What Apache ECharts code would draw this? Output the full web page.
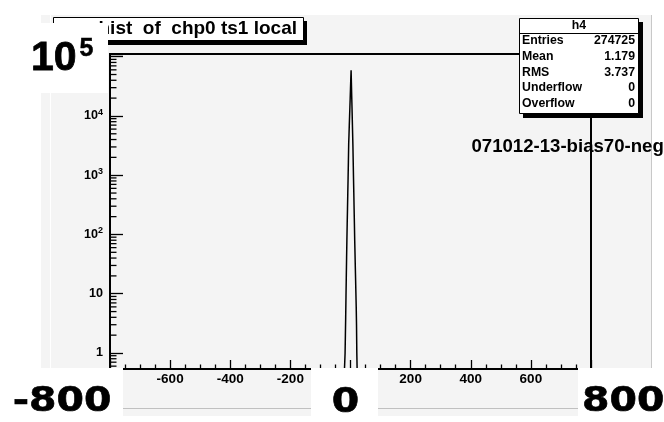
<!DOCTYPE html>
<html><head><meta charset="utf-8">
<script src="https://cdn.jsdelivr.net/npm/echarts@6/dist/echarts.min.js"></script>
<style>html,body{margin:0;padding:0;background:#fff;}#c{width:664px;height:422px;}</style>
</head><body><div id="c"></div>
<script>
// ---- data ----
const binCenters = [-20,-19,-18,-17,-16,-15,-14,-13,-12,-11,-10,-9,-8,-7,-6,-5,-4,-3,-2,-1,0,1,2,3,4,5,6,7,8,9,10,11,12,13,14,15,16,17,18,19,20,21,22];
const binCounts  = [0,0,1,2,4,9,19,40,80,150,270,500,900,1700,3400,4800,7000,10000,14000,20000,29000,42000,59000,36000,22000,14000,8500,5200,3200,1700,900,500,270,150,80,48,28,17,10,6,3,1,0];
const xTickLabels = ['-600','-400','-200','200','400','600'];
const yTickExponents = [0,1,2,3,4];
const statsLabels = ['Entries','Mean','RMS','Underflow','Overflow'];
const statsValues = ['274725','1.179','3.737','0','0'];
const histName = 'h4';
const titleText = 'hist  of  chp0 ts1 local';
const fileLabel = '071012-13-bias70-neg';
const bigXLabels = ['-800','0','800'];
const bigYLabel = ['10','5'];
const xMin = -800, xMax = 800, xStep = 200;
const yMin = 0.537, yMax = 1.11e5;

const FONT = '"Liberation Sans", Arial, sans-serif';
const chart = echarts.init(document.getElementById('c'), null, {renderer:'canvas'});

const lineData = binCenters.map((x,i)=>[x, binCounts[i] > 0 ? binCounts[i] : yMin]);

chart.setOption({
  animation:false,
  backgroundColor:'transparent',
  grid:{left:110,right:73,top:54,bottom:53,show:true,borderColor:'#000',borderWidth:2,backgroundColor:'transparent'},
  xAxis:{
    type:'value',min:xMin,max:xMax,interval:xStep,
    axisLine:{show:true,onZero:false,lineStyle:{color:'#000',width:2}},
    axisTick:{show:true,inside:true,length:9,lineStyle:{color:'#000',width:1.3}},
    minorTick:{show:true,splitNumber:4,length:4.5,lineStyle:{color:'#000',width:1.3}},
    splitLine:{show:false},
    axisLabel:{margin:3,color:'#000',fontFamily:FONT,fontWeight:'bold',fontSize:13.5,
      formatter:v=>xTickLabels.indexOf(String(v))>=0?String(v):''}
  },
  yAxis:{
    type:'log',logBase:10,min:yMin,max:yMax,
    axisLine:{show:true,onZero:false,lineStyle:{color:'#000',width:2}},
    axisTick:{show:true,inside:true,length:13,lineStyle:{color:'#000',width:1.3}},
    minorTick:{show:false},
    splitLine:{show:false},
    axisLabel:{margin:7,color:'#000',fontFamily:FONT,fontWeight:'bold',fontSize:12.6,
      formatter:v=>{
        const e=Math.round(Math.log10(v));
        if(Math.abs(v-Math.pow(10,e))>1e-6*Math.pow(10,e)) return '';
        if(yTickExponents.indexOf(e)<0) return '';
        if(e===0) return '1';
        if(e===1) return '10';
        return '{b|10}{s|'+e+'}';
      },
      rich:{b:{fontFamily:FONT,fontWeight:'bold',fontSize:12.6,color:'#000'},
            s:{fontFamily:FONT,fontWeight:'bold',fontSize:9,color:'#000',padding:[0,0,7,0]}}
    }
  },
  series:[{type:'line',data:lineData,showSymbol:false,symbol:'none',clip:true,
    lineStyle:{color:'#000',width:1.5},z:5}]
});

const g = [];
g.push({type:'rect',z:-100,silent:true,shape:{x:41,y:15,width:611,height:401},style:{fill:'#f4f4f4'}});
g.push({type:'line',z:-99,silent:true,shape:{x1:50.5,y1:15,x2:50.5,y2:408},style:{stroke:'#ffffff',lineWidth:1}});
g.push({type:'line',z:-99,silent:true,shape:{x1:651.5,y1:15,x2:651.5,y2:416},style:{stroke:'#c8c8c8',lineWidth:1}});
g.push({type:'line',z:-99,silent:true,shape:{x1:41,y1:408.5,x2:652,y2:408.5},style:{stroke:'#c0c0c0',lineWidth:1}});

// minor log ticks
const axisX = chart.convertToPixel({xAxisIndex:0}, xMin);
for(let e=-1;e<=5;e++){
  for(let m=2;m<=9;m++){
    const v=m*Math.pow(10,e);
    if(v>yMin && v<yMax){
      const py=chart.convertToPixel({yAxisIndex:0}, v);
      g.push({type:'line',z:10,silent:true,shape:{x1:axisX,y1:py,x2:axisX+6.5,y2:py},style:{stroke:'#000',lineWidth:1.3}});
    }
  }
}

// file label
g.push({type:'text',z:20,x:471.5,y:147,style:{text:fileLabel,fill:'#000',fontFamily:FONT,fontWeight:'bold',fontSize:18.6,align:'left',verticalAlign:'middle'}});

// title box
g.push({type:'rect',z:30,shape:{x:57,y:21,width:250,height:24},style:{fill:'#000'}});
g.push({type:'rect',z:31,shape:{x:53.5,y:17.5,width:250,height:23},style:{fill:'#fff',stroke:'#000',lineWidth:1}});
g.push({type:'text',z:32,x:297,y:28.5,style:{text:titleText,fill:'#000',fontFamily:FONT,fontWeight:'bold',fontSize:19,align:'right',verticalAlign:'middle'}});

// stats box
g.push({type:'rect',z:30,shape:{x:523,y:22,width:120,height:96},style:{fill:'#000'}});
g.push({type:'rect',z:31,shape:{x:519.5,y:18.5,width:119,height:95},style:{fill:'#fff',stroke:'#000',lineWidth:1}});
g.push({type:'line',z:32,shape:{x1:519.5,y1:33.5,x2:638.5,y2:33.5},style:{stroke:'#000',lineWidth:1}});
g.push({type:'text',z:33,x:579,y:26,style:{text:histName,fill:'#000',fontFamily:FONT,fontWeight:'bold',fontSize:12.3,align:'center',verticalAlign:'middle'}});
statsLabels.forEach((lab,i)=>{
  const y=40.8+15.7*i;
  g.push({type:'text',z:33,x:522,y:y,style:{text:lab,fill:'#000',fontFamily:FONT,fontWeight:'bold',fontSize:12.3,align:'left',verticalAlign:'middle'}});
  g.push({type:'text',z:33,x:635,y:y,style:{text:statsValues[i],fill:'#000',fontFamily:FONT,fontWeight:'bold',fontSize:12.3,align:'right',verticalAlign:'middle'}});
});

// big overlay labels
g.push({type:'rect',z:40,shape:{x:0,y:23,width:108,height:70},style:{fill:'#fff'}});
g.push({type:'text',z:41,x:31,y:58.5,style:{text:bigYLabel[0],fill:'#000',stroke:'#000',lineWidth:0.8,fontFamily:FONT,fontWeight:'bold',fontSize:41,align:'left',verticalAlign:'middle'}});
g.push({type:'text',z:41,x:79.5,y:49,style:{text:bigYLabel[1],fill:'#000',stroke:'#000',lineWidth:0.5,fontFamily:FONT,fontWeight:'bold',fontSize:25,align:'left',verticalAlign:'middle'}});

g.push({type:'rect',z:40,shape:{x:0,y:368,width:123,height:54},style:{fill:'#fff'}});
g.push({type:'rect',z:40,shape:{x:311,y:368,width:67,height:54},style:{fill:'#fff'}});
g.push({type:'rect',z:40,shape:{x:578,y:368,width:86,height:54},style:{fill:'#fff'}});
const bigStyle = {fill:'#000',stroke:'#000',lineWidth:0.6,fontFamily:'"DejaVu Sans", sans-serif',fontWeight:'bold',fontSize:34,verticalAlign:'middle'};
g.push({type:'text',z:41,x:62,y:402.5,scaleX:1.16,style:Object.assign({text:bigXLabels[0],align:'center'},bigStyle)});
g.push({type:'text',z:41,x:345.5,y:403,scaleX:1.16,style:Object.assign({text:bigXLabels[1],align:'center'},bigStyle)});
g.push({type:'text',z:41,x:582,y:402.5,scaleX:1.16,style:Object.assign({text:bigXLabels[2],align:'left'},bigStyle)});

chart.setOption({graphic:g});
</script></body></html>
